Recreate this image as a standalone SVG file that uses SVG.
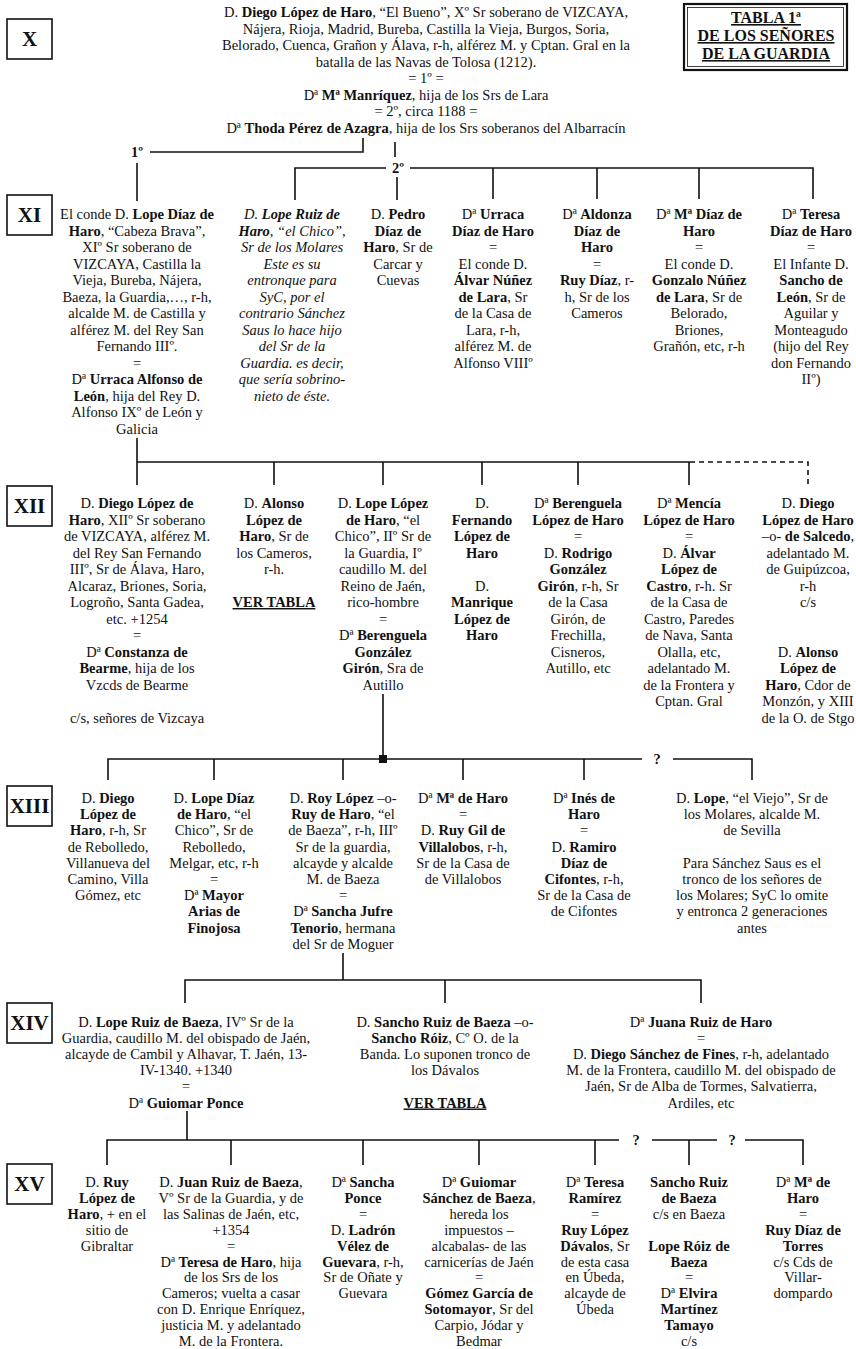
<svg xmlns="http://www.w3.org/2000/svg" width="856" height="1349" viewBox="0 0 856 1349">
<style>
.t{font-family:"Liberation Serif","Times New Roman",serif;font-size:14.5px;text-anchor:middle;fill:#111}
.b{font-weight:bold}
.i{font-style:italic}
.u{text-decoration:underline}
.lbl{font-family:"Liberation Serif","Times New Roman",serif;font-size:21px;font-weight:bold;text-anchor:middle;fill:#111}
.box{fill:none;stroke:#111;stroke-width:1.6}
.ln path{stroke:#111;stroke-width:1.6;fill:none}
.ln .dash{stroke-dasharray:5 4}
.ttl{font-family:"Liberation Serif","Times New Roman",serif;font-size:16px;font-weight:bold;text-anchor:middle;text-decoration:underline;fill:#111}
</style>
<rect width="856" height="1349" fill="#fff"/>

<g id="labels">
<g id="lbl-X"><rect class="box" x="7" y="19" width="45" height="40"/><text class="lbl" x="29.5" y="46">X</text></g>
<g id="lbl-XI"><rect class="box" x="7" y="195" width="45" height="40"/><text class="lbl" x="29.5" y="222">XI</text></g>
<g id="lbl-XII"><rect class="box" x="7" y="486" width="45" height="40"/><text class="lbl" x="29.5" y="513">XII</text></g>
<g id="lbl-XIII"><rect class="box" x="7" y="786" width="45" height="40"/><text class="lbl" x="29.5" y="813">XIII</text></g>
<g id="lbl-XIV"><rect class="box" x="7" y="1003" width="45" height="40"/><text class="lbl" x="29.5" y="1030">XIV</text></g>
<g id="lbl-XV"><rect class="box" x="7" y="1164" width="45" height="40"/><text class="lbl" x="29.5" y="1191">XV</text></g>
</g>

<g id="title">
<rect x="684" y="4" width="163" height="66" fill="none" stroke="#111" stroke-width="2.2"/>
<rect x="687.5" y="7.5" width="156" height="59" fill="none" stroke="#111" stroke-width="0.8"/>
<text class="ttl" x="766" y="23">TABLA 1ª</text>
<text class="ttl" x="766" y="41">DE LOS  SEÑORES</text>
<text class="ttl" x="766" y="59">DE LA GUARDIA</text>
</g>

<g id="connectors" class="ln">
<path d="M363 138V152H150"/>
<path d="M137 163V201"/>
<path d="M395 142V157"/>
<path d="M295 200V168H386M410 168H813V199M493 168V199M597 168V199M699 168V199"/>
<path d="M397 177V200"/>
<path d="M137 438V485M137 462H690M274 462V485M383 462V485M482 462V485M578 462V485M689 462V485"/>
<path class="dash" d="M690 462H808V486"/>
<path d="M383 694V759M108 780V759H642M673 759H752V780M214 759V780M343 759V780M463 759V780M584 759V780"/>
<rect x="379" y="755" width="8" height="8" fill="#111"/>
<path d="M343 953V980M185 1003V980H701V1003M445 980V1003"/>
<path d="M187 1111V1140M107 1165V1140H619M652 1140H717M745 1140H803V1165M231 1140V1165M363 1140V1165M479 1140V1165M595 1140V1165M689 1140V1165"/>
<text class="t b" x="137" y="157">1º</text>
<text class="t b" x="398" y="173">2º</text>
<text class="t b" x="657" y="764">?</text>
<text class="t b" x="636" y="1145">?</text>
<text class="t b" x="732" y="1145">?</text>
</g>

<g id="n-diego-bueno"><text class="t" y="17"><tspan x="426">D. <tspan class="b">Diego López de Haro</tspan>, “El Bueno”, Xº Sr soberano de VIZCAYA,</tspan><tspan x="426" dy="16.5">Nájera, Rioja, Madrid, Bureba, Castilla la Vieja, Burgos, Soria,</tspan><tspan x="426" dy="16.5">Belorado, Cuenca, Grañon y Álava, r-h, alférez M. y Cptan. Gral en la</tspan><tspan x="426" dy="16.5">batalla de las Navas de Tolosa (1212).</tspan><tspan x="426" dy="16.5">= 1º =</tspan></text></g>
<g id="n-ma-manriquez"><text class="t" y="99.5"><tspan x="426">Dª <tspan class="b">Mª Manríquez</tspan>, hija de los Srs de Lara</tspan><tspan x="426" dy="16.5">= 2º, circa 1188 =</tspan></text></g>
<g id="n-thoda"><text class="t" y="132.5"><tspan x="426">Dª <tspan class="b">Thoda Pérez de Azagra</tspan>, hija de los Srs soberanos del Albarracín</tspan></text></g>

<g id="n-lope-diaz-xi"><text class="t" y="219"><tspan x="137">El conde D. <tspan class="b">Lope Díaz de</tspan></tspan><tspan x="137" dy="16.5"><tspan class="b">Haro</tspan>, “Cabeza Brava”,</tspan><tspan x="137" dy="16.5">XIº Sr soberano de</tspan><tspan x="137" dy="16.5">VIZCAYA, Castilla la</tspan><tspan x="137" dy="16.5">Vieja, Bureba, Nájera,</tspan><tspan x="137" dy="16.5">Baeza, la Guardia,…, r-h,</tspan><tspan x="137" dy="16.5">alcalde M. de Castilla y</tspan><tspan x="137" dy="16.5">alférez M. del Rey San</tspan><tspan x="137" dy="16.5">Fernando IIIº.</tspan><tspan x="137" dy="16.5">=</tspan><tspan x="137" dy="16.5">Dª <tspan class="b">Urraca Alfonso de</tspan></tspan><tspan x="137" dy="16.5"><tspan class="b">León</tspan>, hija del Rey D.</tspan><tspan x="137" dy="16.5">Alfonso IXº de León y</tspan><tspan x="137" dy="16.5">Galicia</tspan></text></g>
<g id="n-lope-ruiz-xi"><text class="t i" y="219"><tspan x="292">D. <tspan class="b">Lope Ruiz de</tspan></tspan><tspan x="292" dy="16.5"><tspan class="b">Haro</tspan>, “el Chico”,</tspan><tspan x="292" dy="16.5">Sr de los Molares</tspan><tspan x="292" dy="16.5">Este es su</tspan><tspan x="292" dy="16.5">entronque para</tspan><tspan x="292" dy="16.5">SyC, por el</tspan><tspan x="292" dy="16.5">contrario Sánchez</tspan><tspan x="292" dy="16.5">Saus lo hace hijo</tspan><tspan x="292" dy="16.5">del Sr de la</tspan><tspan x="292" dy="16.5">Guardia. es decir,</tspan><tspan x="292" dy="16.5">que sería sobrino-</tspan><tspan x="292" dy="16.5">nieto de éste.</tspan></text></g>
<g id="n-pedro-xi"><text class="t" y="219"><tspan x="398">D. <tspan class="b">Pedro</tspan></tspan><tspan x="398" dy="16.5" class="b">Díaz de</tspan><tspan x="398" dy="16.5"><tspan class="b">Haro</tspan>, Sr de</tspan><tspan x="398" dy="16.5">Carcar y</tspan><tspan x="398" dy="16.5">Cuevas</tspan></text></g>
<g id="n-urraca-xi"><text class="t" y="219"><tspan x="493">Dª <tspan class="b">Urraca</tspan></tspan><tspan x="493" dy="16.5" class="b">Díaz de Haro</tspan><tspan x="493" dy="16.5">=</tspan><tspan x="493" dy="16.5">El conde D.</tspan><tspan x="493" dy="16.5" class="b">Álvar Núñez</tspan><tspan x="493" dy="16.5"><tspan class="b">de Lara</tspan>, Sr</tspan><tspan x="493" dy="16.5">de la Casa de</tspan><tspan x="493" dy="16.5">Lara, r-h,</tspan><tspan x="493" dy="16.5">alférez M. de</tspan><tspan x="493" dy="16.5">Alfonso VIIIº</tspan></text></g>
<g id="n-aldonza-xi"><text class="t" y="219"><tspan x="597">Dª <tspan class="b">Aldonza</tspan></tspan><tspan x="597" dy="16.5" class="b">Díaz de</tspan><tspan x="597" dy="16.5" class="b">Haro</tspan><tspan x="597" dy="16.5">=</tspan><tspan x="597" dy="16.5"><tspan class="b">Ruy Díaz</tspan>, r-</tspan><tspan x="597" dy="16.5">h, Sr de los</tspan><tspan x="597" dy="16.5">Cameros</tspan></text></g>
<g id="n-ma-diaz-xi"><text class="t" y="219"><tspan x="699">Dª <tspan class="b">Mª Díaz de</tspan></tspan><tspan x="699" dy="16.5" class="b">Haro</tspan><tspan x="699" dy="16.5">=</tspan><tspan x="699" dy="16.5">El conde D.</tspan><tspan x="699" dy="16.5" class="b">Gonzalo Núñez</tspan><tspan x="699" dy="16.5"><tspan class="b">de Lara</tspan>, Sr de</tspan><tspan x="699" dy="16.5">Belorado,</tspan><tspan x="699" dy="16.5">Briones,</tspan><tspan x="699" dy="16.5">Grañón, etc, r-h</tspan></text></g>
<g id="n-teresa-xi"><text class="t" y="219"><tspan x="811">Dª <tspan class="b">Teresa</tspan></tspan><tspan x="811" dy="16.5" class="b">Díaz de Haro</tspan><tspan x="811" dy="16.5">=</tspan><tspan x="811" dy="16.5">El Infante D.</tspan><tspan x="811" dy="16.5" class="b">Sancho de</tspan><tspan x="811" dy="16.5"><tspan class="b">León</tspan>, Sr de</tspan><tspan x="811" dy="16.5">Aguilar y</tspan><tspan x="811" dy="16.5">Monteagudo</tspan><tspan x="811" dy="16.5">(hijo del Rey</tspan><tspan x="811" dy="16.5">don Fernando</tspan><tspan x="811" dy="16.5">IIº)</tspan></text></g>

<g id="n-diego-xii"><text class="t" y="508"><tspan x="137">D. <tspan class="b">Diego López de</tspan></tspan><tspan x="137" dy="16.5"><tspan class="b">Haro</tspan>, XIIº Sr soberano</tspan><tspan x="137" dy="16.5">de VIZCAYA, alférez M.</tspan><tspan x="137" dy="16.5">del Rey San Fernando</tspan><tspan x="137" dy="16.5">IIIº, Sr de Álava, Haro,</tspan><tspan x="137" dy="16.5">Alcaraz, Briones, Soria,</tspan><tspan x="137" dy="16.5">Logroño, Santa Gadea,</tspan><tspan x="137" dy="16.5">etc. +1254</tspan><tspan x="137" dy="16.5">=</tspan><tspan x="137" dy="16.5">Dª <tspan class="b">Constanza de</tspan></tspan><tspan x="137" dy="16.5"><tspan class="b">Bearme</tspan>, hija de los</tspan><tspan x="137" dy="16.5">Vzcds de Bearme</tspan><tspan x="137" dy="33">c/s, señores de Vizcaya</tspan></text></g>
<g id="n-alonso-xii"><text class="t" y="508"><tspan x="274">D. <tspan class="b">Alonso</tspan></tspan><tspan x="274" dy="16.5" class="b">López de</tspan><tspan x="274" dy="16.5"><tspan class="b">Haro</tspan>, Sr de</tspan><tspan x="274" dy="16.5">los Cameros,</tspan><tspan x="274" dy="16.5">r-h.</tspan><tspan x="274" dy="33" class="b u">VER TABLA</tspan></text></g>
<g id="n-lope-lopez-xii"><text class="t" y="508"><tspan x="383">D. <tspan class="b">Lope López</tspan></tspan><tspan x="383" dy="16.5"><tspan class="b">de Haro</tspan>, “el</tspan><tspan x="383" dy="16.5">Chico”, IIº Sr de</tspan><tspan x="383" dy="16.5">la Guardia, Iº</tspan><tspan x="383" dy="16.5">caudillo M. del</tspan><tspan x="383" dy="16.5">Reino de Jaén,</tspan><tspan x="383" dy="16.5">rico-hombre</tspan><tspan x="383" dy="16.5">=</tspan><tspan x="383" dy="16.5">Dª <tspan class="b">Berenguela</tspan></tspan><tspan x="383" dy="16.5" class="b">González</tspan><tspan x="383" dy="16.5"><tspan class="b">Girón</tspan>, Sra de</tspan><tspan x="383" dy="16.5">Autillo</tspan></text></g>
<g id="n-fernando-xii"><text class="t" y="508"><tspan x="482">D.</tspan><tspan x="482" dy="16.5" class="b">Fernando</tspan><tspan x="482" dy="16.5" class="b">López de</tspan><tspan x="482" dy="16.5" class="b">Haro</tspan><tspan x="482" dy="33">D.</tspan><tspan x="482" dy="16.5" class="b">Manrique</tspan><tspan x="482" dy="16.5" class="b">López de</tspan><tspan x="482" dy="16.5" class="b">Haro</tspan></text></g>
<g id="n-berenguela-xii"><text class="t" y="508"><tspan x="578">Dª <tspan class="b">Berenguela</tspan></tspan><tspan x="578" dy="16.5" class="b">López de Haro</tspan><tspan x="578" dy="16.5">=</tspan><tspan x="578" dy="16.5">D. <tspan class="b">Rodrigo</tspan></tspan><tspan x="578" dy="16.5" class="b">González</tspan><tspan x="578" dy="16.5"><tspan class="b">Girón</tspan>, r-h, Sr</tspan><tspan x="578" dy="16.5">de la Casa</tspan><tspan x="578" dy="16.5">Girón, de</tspan><tspan x="578" dy="16.5">Frechilla,</tspan><tspan x="578" dy="16.5">Cisneros,</tspan><tspan x="578" dy="16.5">Autillo, etc</tspan></text></g>
<g id="n-mencia-xii"><text class="t" y="508"><tspan x="689">Dª <tspan class="b">Mencía</tspan></tspan><tspan x="689" dy="16.5" class="b">López de Haro</tspan><tspan x="689" dy="16.5">=</tspan><tspan x="689" dy="16.5">D. <tspan class="b">Álvar</tspan></tspan><tspan x="689" dy="16.5" class="b">López de</tspan><tspan x="689" dy="16.5"><tspan class="b">Castro</tspan>, r-h. Sr</tspan><tspan x="689" dy="16.5">de la Casa de</tspan><tspan x="689" dy="16.5">Castro, Paredes</tspan><tspan x="689" dy="16.5">de Nava, Santa</tspan><tspan x="689" dy="16.5">Olalla, etc,</tspan><tspan x="689" dy="16.5">adelantado M.</tspan><tspan x="689" dy="16.5">de la Frontera y</tspan><tspan x="689" dy="16.5">Cptan. Gral</tspan></text></g>
<g id="n-diego-salcedo-xii"><text class="t" y="508"><tspan x="808">D. <tspan class="b">Diego</tspan></tspan><tspan x="808" dy="16.5" class="b">López de Haro</tspan><tspan x="808" dy="16.5">–o- <tspan class="b">de Salcedo</tspan>,</tspan><tspan x="808" dy="16.5">adelantado M.</tspan><tspan x="808" dy="16.5">de Guipúzcoa,</tspan><tspan x="808" dy="16.5">r-h</tspan><tspan x="808" dy="16.5">c/s</tspan></text></g>
<g id="n-alonso-monzon-xii"><text class="t" y="656.5"><tspan x="808">D. <tspan class="b">Alonso</tspan></tspan><tspan x="808" dy="16.5" class="b">López de</tspan><tspan x="808" dy="16.5"><tspan class="b">Haro</tspan>, Cdor de</tspan><tspan x="808" dy="16.5">Monzón, y XIII</tspan><tspan x="808" dy="16.5">de la O. de Stgo</tspan></text></g>

<g id="n-diego-xiii"><text class="t" y="803"><tspan x="108">D. <tspan class="b">Diego</tspan></tspan><tspan x="108" dy="16.2" class="b">López de</tspan><tspan x="108" dy="16.2"><tspan class="b">Haro</tspan>, r-h, Sr</tspan><tspan x="108" dy="16.2">de Rebolledo,</tspan><tspan x="108" dy="16.2">Villanueva del</tspan><tspan x="108" dy="16.2">Camino, Villa</tspan><tspan x="108" dy="16.2">Gómez, etc</tspan></text></g>
<g id="n-lope-diaz-xiii"><text class="t" y="803"><tspan x="214">D. <tspan class="b">Lope Díaz</tspan></tspan><tspan x="214" dy="16.2"><tspan class="b">de Haro</tspan>, “el</tspan><tspan x="214" dy="16.2">Chico”, Sr de</tspan><tspan x="214" dy="16.2">Rebolledo,</tspan><tspan x="214" dy="16.2">Melgar, etc, r-h</tspan><tspan x="214" dy="16.2">=</tspan><tspan x="214" dy="16.2">Dª <tspan class="b">Mayor</tspan></tspan><tspan x="214" dy="16.2" class="b">Arias de</tspan><tspan x="214" dy="16.2" class="b">Finojosa</tspan></text></g>
<g id="n-roy-lopez-xiii"><text class="t" y="803"><tspan x="343">D. <tspan class="b">Roy López</tspan> –o-</tspan><tspan x="343" dy="16.2"><tspan class="b">Ruy de Haro</tspan>, “el</tspan><tspan x="343" dy="16.2">de Baeza”, r-h, IIIº</tspan><tspan x="343" dy="16.2">Sr de la guardia,</tspan><tspan x="343" dy="16.2">alcayde y alcalde</tspan><tspan x="343" dy="16.2">M. de Baeza</tspan><tspan x="343" dy="16.2">=</tspan><tspan x="343" dy="16.2">Dª <tspan class="b">Sancha Jufre</tspan></tspan><tspan x="343" dy="16.2"><tspan class="b">Tenorio</tspan>, hermana</tspan><tspan x="343" dy="16.2">del Sr de Moguer</tspan></text></g>
<g id="n-ma-haro-xiii"><text class="t" y="803"><tspan x="463">Dª <tspan class="b">Mª de Haro</tspan></tspan><tspan x="463" dy="16.2">=</tspan><tspan x="463" dy="16.2">D. <tspan class="b">Ruy Gil de</tspan></tspan><tspan x="463" dy="16.2"><tspan class="b">Villalobos</tspan>, r-h,</tspan><tspan x="463" dy="16.2">Sr de la Casa de</tspan><tspan x="463" dy="16.2">de Villalobos</tspan></text></g>
<g id="n-ines-xiii"><text class="t" y="803"><tspan x="584">Dª <tspan class="b">Inés de</tspan></tspan><tspan x="584" dy="16.2" class="b">Haro</tspan><tspan x="584" dy="16.2">=</tspan><tspan x="584" dy="16.2">D. <tspan class="b">Ramiro</tspan></tspan><tspan x="584" dy="16.2" class="b">Díaz de</tspan><tspan x="584" dy="16.2"><tspan class="b">Cifontes</tspan>, r-h,</tspan><tspan x="584" dy="16.2">Sr de la Casa de</tspan><tspan x="584" dy="16.2">de Cifontes</tspan></text></g>
<g id="n-lope-viejo-xiii"><text class="t" y="803"><tspan x="752">D. <tspan class="b">Lope</tspan>, “el Viejo”, Sr de</tspan><tspan x="752" dy="16.2">los Molares, alcalde M.</tspan><tspan x="752" dy="16.2">de Sevilla</tspan><tspan x="752" dy="32.4">Para Sánchez Saus es el</tspan><tspan x="752" dy="16.2">tronco de los señores de</tspan><tspan x="752" dy="16.2">los Molares; SyC lo omite</tspan><tspan x="752" dy="16.2">y entronca 2 generaciones</tspan><tspan x="752" dy="16.2">antes</tspan></text></g>

<g id="n-lope-ruiz-xiv"><text class="t" y="1027"><tspan x="186">D. <tspan class="b">Lope Ruiz de Baeza</tspan>, IVº Sr de la</tspan><tspan x="186" dy="16.1">Guardia, caudillo M. del obispado de Jaén,</tspan><tspan x="186" dy="16.1">alcayde de Cambil y Alhavar, T. Jaén, 13-</tspan><tspan x="186" dy="16.1">IV-1340. +1340</tspan><tspan x="186" dy="16.1">=</tspan><tspan x="186" dy="16.1">Dª <tspan class="b">Guiomar Ponce</tspan></tspan></text></g>
<g id="n-sancho-ruiz-xiv"><text class="t" y="1027"><tspan x="445">D. <tspan class="b">Sancho Ruiz de Baeza</tspan> –o-</tspan><tspan x="445" dy="16.1"><tspan class="b">Sancho Róiz</tspan>, Cº O. de la</tspan><tspan x="445" dy="16.1">Banda. Lo suponen tronco de</tspan><tspan x="445" dy="16.1">los Dávalos</tspan><tspan x="445" dy="32.2" class="b u">VER TABLA</tspan></text></g>
<g id="n-juana-xiv"><text class="t" y="1027"><tspan x="701">Dª <tspan class="b">Juana Ruiz de Haro</tspan></tspan><tspan x="701" dy="16.1">=</tspan><tspan x="701" dy="16.1">D. <tspan class="b">Diego Sánchez de Fines</tspan>, r-h, adelantado</tspan><tspan x="701" dy="16.1">M. de la Frontera, caudillo M. del obispado de</tspan><tspan x="701" dy="16.1">Jaén, Sr de Alba de Tormes, Salvatierra,</tspan><tspan x="701" dy="16.1">Ardiles, etc</tspan></text></g>

<g id="n-ruy-xv"><text class="t" y="1187"><tspan x="107">D. <tspan class="b">Ruy</tspan></tspan><tspan x="107" dy="15.9" class="b">López de</tspan><tspan x="107" dy="15.9"><tspan class="b">Haro</tspan>, + en el</tspan><tspan x="107" dy="15.9">sitio de</tspan><tspan x="107" dy="15.9">Gibraltar</tspan></text></g>
<g id="n-juan-ruiz-xv"><text class="t" y="1187"><tspan x="231">D. <tspan class="b">Juan Ruiz de Baeza</tspan>,</tspan><tspan x="231" dy="15.9">Vº Sr de la Guardia, y de</tspan><tspan x="231" dy="15.9">las Salinas de Jaén, etc,</tspan><tspan x="231" dy="15.9">+1354</tspan><tspan x="231" dy="15.9">=</tspan><tspan x="231" dy="15.9">Dª <tspan class="b">Teresa de Haro</tspan>, hija</tspan><tspan x="231" dy="15.9">de los Srs de los</tspan><tspan x="231" dy="15.9">Cameros; vuelta a casar</tspan><tspan x="231" dy="15.9">con D. Enrique Enríquez,</tspan><tspan x="231" dy="15.9">justicia M. y adelantado</tspan><tspan x="231" dy="15.9">M. de la Frontera.</tspan></text></g>
<g id="n-sancha-xv"><text class="t" y="1187"><tspan x="363">Dª <tspan class="b">Sancha</tspan></tspan><tspan x="363" dy="15.9" class="b">Ponce</tspan><tspan x="363" dy="15.9">=</tspan><tspan x="363" dy="15.9">D. <tspan class="b">Ladrón</tspan></tspan><tspan x="363" dy="15.9" class="b">Vélez de</tspan><tspan x="363" dy="15.9"><tspan class="b">Guevara</tspan>, r-h,</tspan><tspan x="363" dy="15.9">Sr de Oñate y</tspan><tspan x="363" dy="15.9">Guevara</tspan></text></g>
<g id="n-guiomar-xv"><text class="t" y="1187"><tspan x="479">Dª <tspan class="b">Guiomar</tspan></tspan><tspan x="479" dy="15.9"><tspan class="b">Sánchez de Baeza</tspan>,</tspan><tspan x="479" dy="15.9">hereda los</tspan><tspan x="479" dy="15.9">impuestos –</tspan><tspan x="479" dy="15.9">alcabalas- de las</tspan><tspan x="479" dy="15.9">carnicerías de Jaén</tspan><tspan x="479" dy="15.9">=</tspan><tspan x="479" dy="15.9" class="b">Gómez García de</tspan><tspan x="479" dy="15.9"><tspan class="b">Sotomayor</tspan>, Sr del</tspan><tspan x="479" dy="15.9">Carpio, Jódar y</tspan><tspan x="479" dy="15.9">Bedmar</tspan></text></g>
<g id="n-teresa-ramirez-xv"><text class="t" y="1187"><tspan x="595">Dª <tspan class="b">Teresa</tspan></tspan><tspan x="595" dy="15.9" class="b">Ramírez</tspan><tspan x="595" dy="15.9">=</tspan><tspan x="595" dy="15.9" class="b">Ruy López</tspan><tspan x="595" dy="15.9"><tspan class="b">Dávalos</tspan>, Sr</tspan><tspan x="595" dy="15.9">de esta casa</tspan><tspan x="595" dy="15.9">en Úbeda,</tspan><tspan x="595" dy="15.9">alcayde de</tspan><tspan x="595" dy="15.9">Úbeda</tspan></text></g>
<g id="n-sancho-ruiz-xv"><text class="t" y="1187"><tspan x="689" class="b">Sancho Ruiz</tspan><tspan x="689" dy="15.9" class="b">de Baeza</tspan><tspan x="689" dy="15.9">c/s en Baeza</tspan></text></g>
<g id="n-lope-roiz-xv"><text class="t" y="1250.6"><tspan x="689" class="b">Lope Róiz de</tspan><tspan x="689" dy="15.9" class="b">Baeza</tspan><tspan x="689" dy="15.9">=</tspan><tspan x="689" dy="15.9">Dª <tspan class="b">Elvira</tspan></tspan><tspan x="689" dy="15.9" class="b">Martínez</tspan><tspan x="689" dy="15.9" class="b">Tamayo</tspan><tspan x="689" dy="15.9">c/s</tspan></text></g>
<g id="n-ma-haro-xv"><text class="t" y="1187"><tspan x="803">Dª <tspan class="b">Mª de</tspan></tspan><tspan x="803" dy="15.9" class="b">Haro</tspan><tspan x="803" dy="15.9">=</tspan><tspan x="803" dy="15.9" class="b">Ruy Díaz de</tspan><tspan x="803" dy="15.9" class="b">Torres</tspan><tspan x="803" dy="15.9">c/s Cds de</tspan><tspan x="803" dy="15.9">Villar-</tspan><tspan x="803" dy="15.9">dompardo</tspan></text></g>
</svg>
